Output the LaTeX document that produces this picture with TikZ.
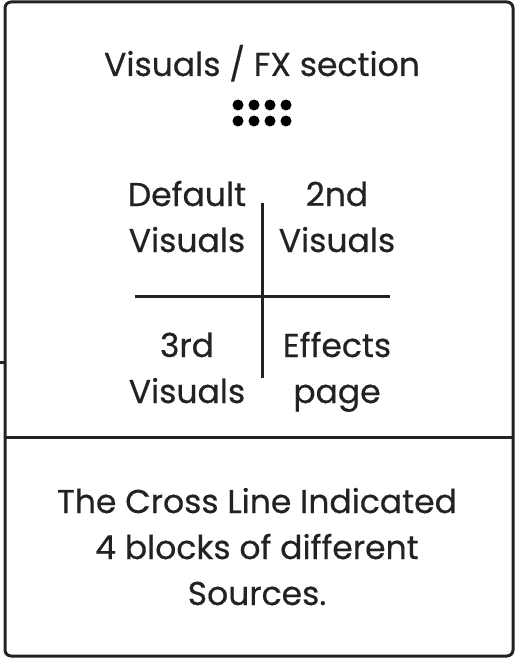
\documentclass[tikz,border=0pt]{standalone}
\usepackage{fontspec}
\setmainfont{Poppins}[FakeBold=0.5]
\definecolor{ink}{HTML}{222222}
\begin{document}
\begin{tikzpicture}[x=1pt,y=-1pt,
  frame/.style={draw=ink,line width=3pt},
  txt/.style={font=\fontsize{33}{46}\selectfont,text=ink,align=center,inner sep=0pt},
  dot/.style={circle,fill=black,inner sep=0pt,minimum size=11pt}]
\useasboundingbox (0,0) rectangle (515,658);
\draw[frame,rounded corners=6pt] (5,2) rectangle (513,656);
\coordinate (dl) at (5,437);
\coordinate (dr) at (513,437);
\draw[frame] (dl) -- (dr);
\coordinate (tk1) at (0,362);
\coordinate (tk2) at (5,362);
\draw[ink,line width=3pt] (tk1) -- (tk2);
\node[txt] (title) at (262,66.8) {\strut Visuals / FX section};
\foreach \i/\x in {1/238,2/254,3/270,4/286}{
  \node[dot] (da\i) at (\x,105) {};
  \node[dot] (db\i) at (\x,121) {};
}
\coordinate (vt) at (262,203);
\coordinate (vb) at (262,378);
\coordinate (hl) at (135,296);
\coordinate (hr) at (390,296);
\draw[frame] (vt) -- (vb);
\draw[frame] (hl) -- (hr);
\node[txt] (q1) at (187,219.8) {\strut Default\\\strut Visuals};
\node[txt] (q2) at (337,219.8) {\strut 2nd\\\strut Visuals};
\node[txt] (q3) at (187,370.8) {\strut 3rd\\\strut Visuals};
\node[txt] (q4) at (337,370.8) {\strut Effects\\\strut page};
\node[txt] (note) at (257,549.8) {\strut The Cross Line Indicated\\\strut 4 blocks of different\\\strut Sources.};
\end{tikzpicture}
\end{document}
